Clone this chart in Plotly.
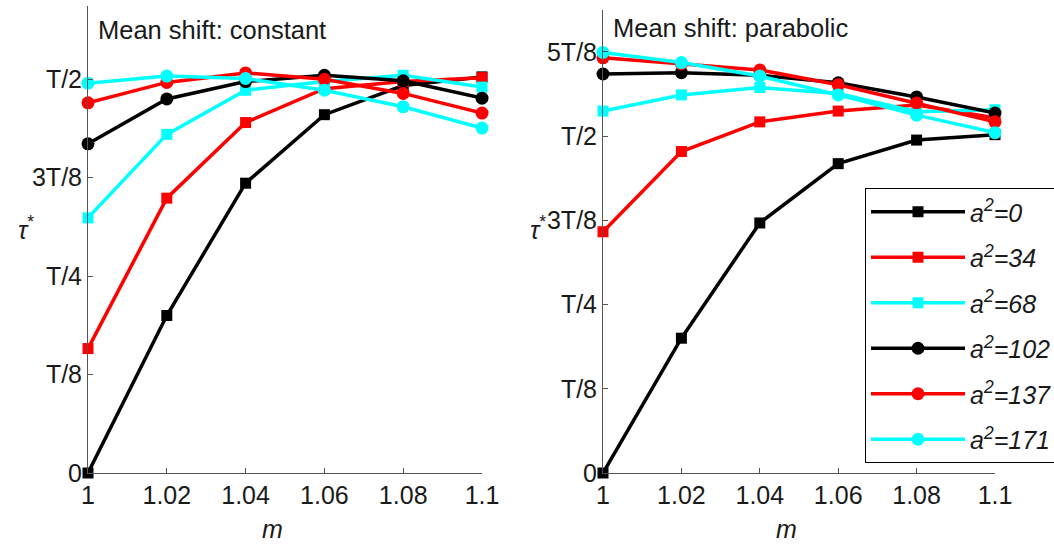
import plotly.graph_objects as go

# Stretch factor m (shared x values)
m_values = [1.0, 1.02, 1.04, 1.06, 1.08, 1.1]
m_ticktext = ["1", "1.02", "1.04", "1.06", "1.08", "1.1"]

# Optimal delay tau* in units of the period T
tau_ticks_left = [0, 0.125, 0.25, 0.375, 0.5]
tau_ticktext_left = ["0", "T/8", "T/4", "3T/8", "T/2"]
tau_ticks_right = [0, 0.125, 0.25, 0.375, 0.5, 0.625]
tau_ticktext_right = ["0", "T/8", "T/4", "3T/8", "T/2", "5T/8"]

a2_labels = ["0", "34", "68", "102", "137", "171"]

# Mean shift: constant
const_a0 = [0.000, 0.200, 0.368, 0.455, 0.492, 0.503]
const_a34 = [0.158, 0.349, 0.445, 0.488, 0.497, 0.502]
const_a68 = [0.324, 0.430, 0.486, 0.497, 0.505, 0.490]
const_a102 = [0.418, 0.475, 0.497, 0.505, 0.498, 0.476]
const_a137 = [0.470, 0.496, 0.508, 0.500, 0.482, 0.457]
const_a171 = [0.495, 0.504, 0.501, 0.486, 0.465, 0.438]

# Mean shift: parabolic
para_a0 = [0.000, 0.200, 0.371, 0.459, 0.494, 0.502]
para_a34 = [0.358, 0.477, 0.521, 0.537, 0.546, 0.527]
para_a68 = [0.537, 0.561, 0.572, 0.563, 0.536, 0.539]
para_a102 = [0.592, 0.594, 0.590, 0.579, 0.558, 0.534]
para_a137 = [0.616, 0.607, 0.598, 0.576, 0.549, 0.521]
para_a171 = [0.624, 0.609, 0.589, 0.561, 0.531, 0.505]

colors = ["#000000", "#ff0000", "#00ffff", "#000000", "#ff0000", "#00ffff"]
symbols = ["square", "square", "square", "circle", "circle", "circle"]
sizes = [11, 11, 11, 13, 13, 13]

const_series = [const_a0, const_a34, const_a68, const_a102, const_a137, const_a171]
para_series = [para_a0, para_a34, para_a68, para_a102, para_a137, para_a171]

FONT = "Arial, Liberation Sans, sans-serif"
TXT = "#1a1a1a"
W, H = 1054, 544

fig = go.Figure()

for i, ys in enumerate(const_series):
    fig.add_trace(go.Scatter(
        x=m_values, y=ys, xaxis="x", yaxis="y", mode="lines+markers",
        line=dict(color=colors[i], width=3.5),
        marker=dict(symbol=symbols[i], size=sizes[i], color=colors[i]),
        cliponaxis=False, showlegend=False,
    ))

for i, ys in enumerate(para_series):
    fig.add_trace(go.Scatter(
        x=m_values, y=ys, xaxis="x2", yaxis="y2", mode="lines+markers",
        name=f"<i>a<sup>2</sup>=</i><i>{a2_labels[i]}</i>",
        legendgroup=f"g{i}",
        line=dict(color=colors[i], width=3.5),
        marker=dict(symbol=symbols[i], size=sizes[i], color=colors[i]),
        cliponaxis=False, showlegend=True,
    ))


def px_x(p):
    return p / W


def px_y(p):
    return 1 - p / H


axis_common = dict(
    showline=True, linecolor="#555555", linewidth=1,
    ticks="inside", ticklen=5, tickcolor="#555555",
    showgrid=False, zeroline=False, automargin=False,
    tickfont=dict(family=FONT, size=25, color=TXT),
)

fig.update_layout(
    width=W, height=H,
    margin=dict(l=0, r=0, t=0, b=0, autoexpand=False),
    paper_bgcolor="white", plot_bgcolor="white",
    xaxis=dict(domain=[px_x(88), px_x(482)], range=[1.0, 1.1], anchor="y",
               tickvals=m_values, ticktext=m_ticktext, **axis_common),
    yaxis=dict(domain=[px_y(473), px_y(6)], range=[0, 0.593], anchor="x",
               tickvals=tau_ticks_left, ticktext=tau_ticktext_left, **axis_common),
    xaxis2=dict(domain=[px_x(603), px_x(995)], range=[1.0, 1.1], anchor="y2",
                tickvals=m_values, ticktext=m_ticktext, **axis_common),
    yaxis2=dict(domain=[px_y(473), px_y(10)], range=[0, 0.687], anchor="x2",
                tickvals=tau_ticks_right, ticktext=tau_ticktext_right, **axis_common),
    legend=dict(
        x=px_x(865), y=px_y(188), xanchor="left", yanchor="top",
        bordercolor="#000000", borderwidth=1, bgcolor="white",
        font=dict(family=FONT, size=25, color=TXT),
        traceorder="grouped", tracegroupgap=10,
        itemwidth=94,
    ),
    showlegend=True,
)

annotations = [
    dict(text="Mean shift: constant", x=px_x(96), y=px_y(30), xanchor="left", yanchor="middle", size=25.5),
    dict(text="Mean shift: parabolic", x=px_x(611), y=px_y(28), xanchor="left", yanchor="middle", size=25.5),
    dict(text="<i>m</i>", x=px_x(272), y=px_y(529), xanchor="center", yanchor="middle", size=25),
    dict(text="<i>m</i>", x=px_x(786), y=px_y(529), xanchor="center", yanchor="middle", size=25),
    dict(text="<i>τ</i><sup>*</sup>", x=px_x(26), y=px_y(228), xanchor="center", yanchor="middle", size=25),
    dict(text="<i>τ</i><sup>*</sup>", x=px_x(538), y=px_y(228), xanchor="center", yanchor="middle", size=25),
]
for a in annotations:
    size = a.pop("size")
    a.update(xref="paper", yref="paper", showarrow=False,
             font=dict(family=FONT, size=size, color=TXT))
fig.update_layout(annotations=annotations)

fig.write_html("out.html")
